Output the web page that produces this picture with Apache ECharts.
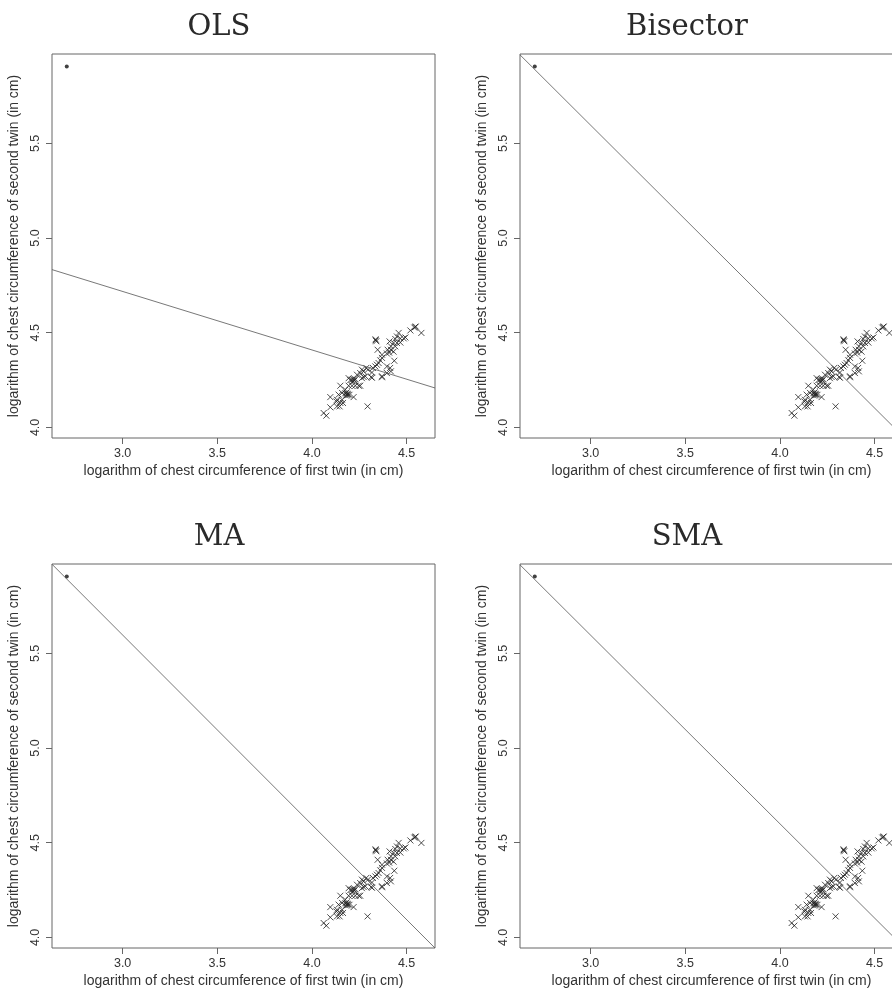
<!DOCTYPE html>
<html>
<head>
<meta charset="utf-8">
<script src="https://cdn.jsdelivr.net/npm/echarts@6/dist/echarts.min.js"></script>
<style>
  html, body { margin: 0; padding: 0; background: #fff; overflow: hidden; width: 892px; height: 994px; }
  /* the canvas runs past the right edge; the right column's box is cut off */
  #chart { width: 920px; height: 994px; }
</style>
</head>
<body>
<div id="chart"></div>
<script>
// Log chest circumference of twins (first twin on x, second twin on y)
const twin1 = [
  4.546, 4.548, 4.541, 4.520, 4.578, 4.458, 4.337, 4.340, 4.336, 4.410,
  4.440, 4.449, 4.467, 4.485, 4.494, 4.431, 4.449, 4.467, 4.417, 4.440,
  4.347, 4.400, 4.417, 4.431, 4.396, 4.408, 4.370, 4.435, 4.370, 4.361,
  4.352, 4.343, 4.322, 4.335, 4.396, 4.413, 4.417, 4.396, 4.370, 4.287,
  4.296, 4.264, 4.273, 4.317, 4.313, 4.273, 4.282, 4.238, 4.255, 4.194,
  4.212, 4.220, 4.229, 4.203, 4.216, 4.225, 4.264, 4.317, 4.194, 4.212,
  4.229, 4.247, 4.150, 4.176, 4.159, 4.176, 4.185, 4.190, 4.198, 4.180,
  4.188, 4.141, 4.220, 4.097, 4.132, 4.130, 4.159, 4.150, 4.132, 4.146,
  4.164, 4.097, 4.294, 4.062, 4.076, 4.370, 4.255, 4.183
];
const twin2 = [
  4.530, 4.533, 4.527, 4.512, 4.499, 4.499, 4.460, 4.455, 4.465, 4.454,
  4.467, 4.480, 4.470, 4.470, 4.475, 4.446, 4.446, 4.448, 4.428, 4.428,
  4.410, 4.410, 4.410, 4.400, 4.390, 4.395, 4.384, 4.352, 4.367, 4.354,
  4.340, 4.331, 4.314, 4.322, 4.322, 4.314, 4.296, 4.287, 4.270, 4.314,
  4.305, 4.305, 4.296, 4.290, 4.266, 4.266, 4.270, 4.278, 4.287, 4.260,
  4.252, 4.255, 4.255, 4.250, 4.243, 4.248, 4.260, 4.262, 4.220, 4.220,
  4.220, 4.220, 4.220, 4.199, 4.182, 4.180, 4.178, 4.175, 4.172, 4.168,
  4.170, 4.173, 4.160, 4.160, 4.146, 4.137, 4.146, 4.129, 4.111, 4.111,
  4.129, 4.106, 4.111, 4.076, 4.062, 4.265, 4.220, 4.185
];
// The single outlying pair, drawn as a filled dot
const outlier = [2.705, 5.906];

// Fitted lines, one per panel
const methods = ['OLS', 'Bisector', 'MA', 'SMA'];
const slopes = [-0.309, -0.996, -1.002, -0.996];
const intercepts = [5.645, 8.584, 8.603, 8.584];

// Axis ranges and tick labels
const xRange = [2.627, 4.650];
const yRange = [3.944, 5.972];
const xTicks = [3.0, 3.5, 4.0, 4.5];
const yTicks = [4.0, 4.5, 5.0, 5.5];

const xTitle = 'logarithm of chest circumference of first twin (in cm)';
const yTitle = 'logarithm of chest circumference of second twin (in cm)';

const SANS = '"Liberation Sans", Arial, Helvetica, sans-serif';
const SERIF = '"DejaVu Serif", serif';
const INK = '#333';
const LINE = '#666';

// panel placement: 2 x 2
const panelLeft = [52, 520, 52, 520];
const panelTop = [54, 54, 564, 564];
const panelSize = 384;
const titleX = [214, 682, 214, 682];
const titleTop = [8, 8, 518, 518];

const points = twin1.map((x, i) => [x, twin2[i]]);
const crossPath = 'path://M0,0L10,10M10,0L0,10';

const grids = [], xAxes = [], yAxes = [], series = [], titles = [];
methods.forEach((m, i) => {
  grids.push({
    left: panelLeft[i], top: panelTop[i], width: panelSize - 1, height: panelSize,
    show: true, borderColor: LINE, borderWidth: 1, backgroundColor: 'transparent',
    containLabel: false
  });
  xAxes.push({
    gridIndex: i, type: 'value', min: xRange[0], max: xRange[1],
    axisLine: { show: false },
    splitLine: { show: false },
    axisTick: { show: true, inside: false, length: 6, customValues: xTicks, lineStyle: { color: LINE } },
    axisLabel: {
      customValues: xTicks, formatter: v => v.toFixed(1), margin: 9,
      fontSize: 12.5, color: INK, fontFamily: SANS
    },
    name: xTitle, nameLocation: 'middle', nameGap: 26,
    nameTextStyle: { fontSize: 14, color: INK, fontFamily: SANS }
  });
  yAxes.push({
    gridIndex: i, type: 'value', min: yRange[0], max: yRange[1],
    axisLine: { show: false },
    splitLine: { show: false },
    axisTick: { show: true, inside: false, length: 6, customValues: yTicks, lineStyle: { color: LINE } },
    axisLabel: {
      customValues: yTicks, formatter: v => v.toFixed(1), margin: 10, rotate: 90,
      fontSize: 12.5, color: INK, fontFamily: SANS
    },
    name: yTitle, nameLocation: 'middle', nameGap: 31, nameRotate: 90,
    nameTextStyle: { fontSize: 14, color: INK, fontFamily: SANS }
  });
  titles.push({
    text: m, left: titleX[i], top: titleTop[i], textAlign: 'center',
    textStyle: { fontFamily: SERIF, fontWeight: 'normal', fontSize: 29, color: '#2a2a2a' }
  });
  // fitted line across the full x range (clipped to the plot box)
  const lineData = xRange.map(x => [x, intercepts[i] + slopes[i] * x]);
  series.push({
    type: 'line', xAxisIndex: i, yAxisIndex: i, data: lineData,
    symbol: 'none', clip: true, silent: true,
    lineStyle: { color: '#555', width: 0.8 }
  });
  series.push({
    type: 'scatter', xAxisIndex: i, yAxisIndex: i, data: points,
    symbol: crossPath, symbolSize: 6, silent: true,
    itemStyle: { color: 'none', borderColor: '#222', borderWidth: 1 }
  });
  series.push({
    type: 'scatter', xAxisIndex: i, yAxisIndex: i, data: [outlier],
    symbol: 'circle', symbolSize: 4, silent: true,
    itemStyle: { color: '#111' }
  });
});

const chart = echarts.init(document.getElementById('chart'), null, { renderer: 'canvas' });
chart.setOption({
  animation: false,
  backgroundColor: '#fff',
  title: titles,
  grid: grids,
  xAxis: xAxes,
  yAxis: yAxes,
  series: series
});
</script>
</body>
</html>
